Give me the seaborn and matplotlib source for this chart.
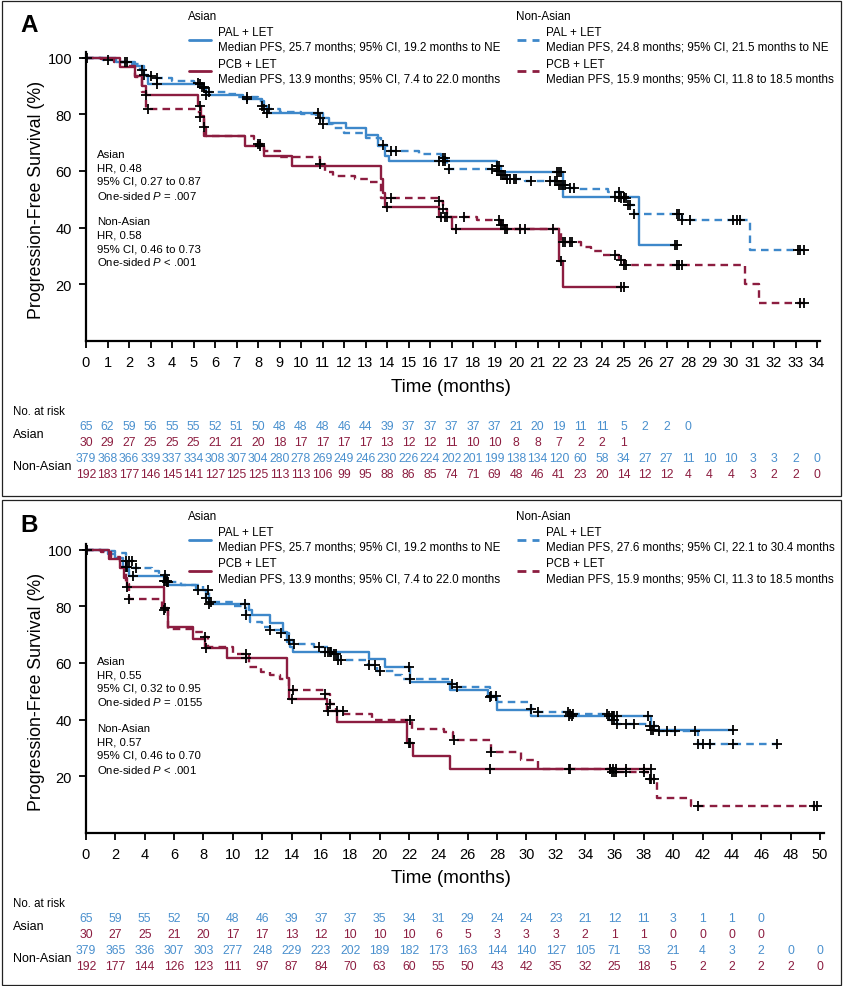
import numpy as np
import pandas as pd
import matplotlib
matplotlib.use("Agg")
import matplotlib.pyplot as plt
import seaborn as sns
from matplotlib import font_manager
from matplotlib.lines import Line2D
from matplotlib.patches import Rectangle
from matplotlib.transforms import blended_transform_factory

# ---------------- data ----------------
# Panel A (months 0..34)
a_apal_t = [0, 1.4, 2.3, 2.7, 2.9, 5.4, 5.6, 7.3, 8.2, 8.4, 11.0, 11.3, 12.1, 13.0, 13.6, 13.9, 14.1, 19.1, 19.3, 22.2, 25.7, 27.5]
a_apal_s = [100, 98.5, 96.9, 93.8, 90.8, 89.2, 86.9, 85.4, 83.0, 80.5, 78.8, 77.0, 75.2, 72.5, 68.9, 65.3, 63.6, 61.6, 59.6, 50.9, 33.9, 33.9]
a_apal_c = [1.9, 2.7, 3.3, 5.3, 5.5, 5.6, 7.5, 8.2, 8.4, 10.8, 16.4, 16.6, 16.7, 19.1, 19.2, 21.9, 22.0, 22.1, 24.6, 24.8, 25.0, 27.4, 27.5]

a_npal_t = [0, 0.8, 1.5, 2.0, 2.5, 2.8, 3.2, 4.0, 5.0, 5.3, 5.6, 6.5, 7.0, 8.0, 8.3, 9.0, 10.0, 10.7, 11.0, 11.5,
            12.0, 13.0, 13.7, 14.0, 15.5, 16.5, 16.8, 19.0, 19.3, 19.6, 20.4, 22.0, 22.4, 22.9, 24.3, 24.9, 25.2, 25.5,
            27.7, 30.9, 33.4]
a_npal_s = [100, 99.2, 98.4, 97.6, 95.5, 93.5, 92.6, 91.8, 91.0, 89.5, 87.8, 87.0, 86.2, 84.5, 82.0, 80.8, 80.0, 78.5,
            76.5, 75.0, 73.5, 71.5, 69.0, 67.0, 66.0, 64.5, 60.7, 60.0, 58.5, 57.0, 56.3, 55.2, 54.0, 53.5, 52.5, 50.6,
            48.0, 44.7, 42.8, 32.2, 32.2]
a_npal_c = [0.05, 1.0, 1.8, 2.6, 3.0, 3.3, 5.2, 5.4, 5.5, 5.7, 7.5, 8.3, 8.5, 10.9, 11.0, 13.8, 14.2, 14.4, 16.6, 16.7,
            16.9, 18.9, 19.1, 19.2, 19.3, 19.4, 19.5, 19.6, 19.7, 19.9, 20.0, 20.7, 21.6, 21.8, 21.9, 22.0, 22.1, 22.2,
            22.3, 22.5, 22.7, 24.8, 24.9, 25.0, 25.1, 25.2, 25.3, 25.5, 27.5, 27.6, 27.7, 28.1, 30.1, 30.3, 30.4, 33.1,
            33.2, 33.4]

a_apcb_t = [0, 1.6, 2.3, 2.6, 2.8, 5.2, 5.35, 5.5, 5.6, 7.4, 8.3, 9.6, 13.7, 13.8, 13.9, 16.4, 17.0, 22.0, 22.2, 25.0]
a_apcb_s = [100, 96.7, 93.3, 90.0, 86.7, 82.9, 79.2, 75.6, 72.4, 68.9, 65.2, 61.8, 57.0, 52.2, 47.4, 43.7, 39.5, 28.3, 18.9, 18.9]
a_apcb_c = [2.8, 5.3, 5.5, 8.1, 14.0, 16.5, 16.7, 17.2, 20.2, 20.4, 21.7, 22.1, 24.9, 25.0]

a_npcb_t = [0, 0.7, 1.3, 1.9, 2.3, 2.6, 2.8, 5.1, 5.3, 5.5, 7.8, 8.0, 8.3, 9.0, 10.9, 11.1, 11.5, 12.5, 13.2, 13.7,
            16.4, 16.6, 16.8, 18.2, 19.3, 19.5, 22.1, 23.0, 23.5, 24.0, 24.8, 25.0, 30.65, 31.3, 33.4]
a_npcb_s = [100, 99.5, 98.4, 96.9, 93.0, 88.0, 81.8, 80.6, 78.9, 72.4, 71.2, 69.6, 67.0, 64.9, 62.5, 59.5, 58.3, 57.1,
            56.0, 50.5, 49.5, 46.5, 43.6, 42.6, 41.0, 39.5, 34.8, 33.0, 31.7, 30.2, 28.5, 26.8, 20.1, 13.3, 13.3]
a_npcb_c = [2.9, 5.3, 8.0, 8.1, 10.9, 14.2, 16.4, 16.6, 16.8, 17.6, 19.2, 19.3, 19.4, 19.5, 19.6, 22.2, 22.3, 22.5,
            22.6, 24.6, 24.9, 25.0, 25.1, 27.5, 27.6, 27.7, 33.2, 33.4]

# Panel B (months 0..50)
b_apal_t = [0, 1.5, 2.0, 2.5, 2.9, 5.3, 5.6, 7.5, 8.2, 8.4, 11.1, 11.3, 12.5, 13.4, 13.7, 13.9, 14.1, 19.3, 20.4, 22.1,
            24.8, 27.4, 28.0, 30.3, 38.5, 44.1]
b_apal_s = [100, 98.5, 96.9, 93.8, 90.5, 89.0, 87.4, 85.6, 83.0, 80.6, 78.6, 76.8, 73.9, 71.0, 67.5, 65.5, 63.8, 61.5,
            58.6, 53.3, 50.3, 48.0, 43.3, 41.4, 36.4, 36.4]
b_apal_c = [2.7, 2.8, 3.2, 5.3, 5.4, 5.5, 7.6, 8.2, 8.4, 10.8, 16.3, 16.5, 16.6, 16.7, 22.0, 27.5, 32.9, 33.1, 35.6,
            35.8, 35.9, 36.0, 36.2, 38.3, 38.5, 38.6, 44.1]

b_npal_t = [0, 1.0, 2.0, 2.7, 3.2, 4.5, 5.0, 5.5, 6.5, 8.0, 8.4, 10.0, 10.9, 11.2, 12.0, 12.5, 13.3, 13.8, 14.1, 15.5,
            16.7, 17.2, 19.2, 19.8, 21.0, 21.5, 24.8, 25.3, 27.5, 28.0, 30.3, 30.8, 33.0, 35.6, 36.2, 38.3, 39.0, 41.7,
            47.1]
b_npal_s = [100, 99.5, 98.7, 96.0, 93.5, 92.5, 91.0, 88.5, 87.4, 85.8, 81.5, 80.2, 77.0, 74.5, 72.5, 71.5, 70.5, 68.0,
            66.5, 65.6, 63.2, 61.0, 59.1, 57.3, 55.6, 54.4, 52.7, 51.5, 48.5, 46.2, 43.9, 42.7, 41.8, 40.0, 38.6, 37.8,
            36.1, 31.4, 31.4]
b_npal_c = [0.05, 2.7, 2.9, 3.1, 3.4, 5.4, 5.5, 5.6, 8.3, 8.5, 10.9, 12.5, 13.3, 13.8, 14.2, 15.9, 16.9, 17.0, 17.2,
            17.4, 19.3, 19.7, 20.0, 22.1, 24.9, 25.3, 27.6, 27.9, 30.3, 30.8, 32.8, 33.0, 33.2, 35.5, 35.8, 36.0, 36.2,
            36.8, 37.3, 38.4, 38.7, 39.0, 39.6, 40.1, 41.5, 41.7, 42.0, 42.5, 44.1, 47.1]

b_apcb_t = [0, 1.6, 2.3, 2.6, 2.8, 5.3, 5.6, 7.3, 8.1, 9.6, 13.7, 13.8, 16.4, 17.1, 21.9, 22.3, 24.8, 38.5]
b_apcb_s = [100, 96.7, 93.3, 90.0, 86.7, 79.3, 72.7, 68.6, 65.2, 61.7, 54.5, 47.3, 43.2, 39.1, 31.9, 27.3, 22.6, 22.6]
b_apcb_c = [2.8, 5.4, 8.2, 10.9, 14.0, 16.5, 22.0, 22.1, 27.5, 33.0, 35.7, 35.9, 36.1, 36.8, 38.0, 38.5]

b_npcb_t = [0, 1.0, 1.7, 2.3, 2.7, 2.9, 5.2, 5.6, 7.4, 8.0, 8.3, 10.0, 11.1, 11.9, 12.5, 13.2, 13.8, 16.3, 16.6, 17.0,
            17.6, 19.5, 22.2, 24.4, 25.0, 27.6, 29.6, 30.8, 35.8, 38.3, 38.9, 41.2, 49.8]
b_npcb_s = [100, 99.0, 97.5, 94.0, 88.0, 82.7, 78.5, 72.1, 70.9, 69.1, 65.6, 63.2, 58.5, 56.7, 55.6, 54.4, 50.3, 49.1,
            45.6, 43.2, 42.0, 39.7, 36.8, 35.6, 32.7, 28.6, 25.7, 22.6, 21.5, 19.2, 12.2, 9.7, 9.7]
b_npcb_c = [2.9, 5.3, 8.1, 10.9, 14.1, 16.3, 16.6, 17.1, 17.5, 22.1, 25.1, 27.6, 32.9, 35.7, 35.8, 36.0, 36.1, 36.8,
            38.0, 38.4, 38.5, 38.7, 41.7, 49.6, 49.8]

# number at risk
a_risk_t = list(range(0, 35))
a_risk_apal = [65, 62, 59, 56, 55, 55, 52, 51, 50, 48, 48, 48, 46, 44, 39, 37, 37, 37, 37, 37, 21, 20, 19, 11, 11, 5, 2, 2, 0]
a_risk_apcb = [30, 29, 27, 25, 25, 25, 21, 21, 20, 18, 17, 17, 17, 17, 13, 12, 12, 11, 10, 10, 8, 8, 7, 2, 2, 1]
a_risk_npal = [379, 368, 366, 339, 337, 334, 308, 307, 304, 280, 278, 269, 249, 246, 230, 226, 224, 202, 201, 199, 138,
               134, 120, 60, 58, 34, 27, 27, 11, 10, 10, 3, 3, 2, 0]
a_risk_npcb = [192, 183, 177, 146, 145, 141, 127, 125, 125, 113, 113, 106, 99, 95, 88, 86, 85, 74, 71, 69, 48, 46, 41,
               23, 20, 14, 12, 12, 4, 4, 4, 3, 2, 2, 0]

b_risk_t = list(range(0, 51, 2))
b_risk_apal = [65, 59, 55, 52, 50, 48, 46, 39, 37, 37, 35, 34, 31, 29, 24, 24, 23, 21, 12, 11, 3, 1, 1, 0]
b_risk_apcb = [30, 27, 25, 21, 20, 17, 17, 13, 12, 10, 10, 10, 6, 5, 3, 3, 3, 2, 1, 1, 0, 0, 0, 0]
b_risk_npal = [379, 365, 336, 307, 303, 277, 248, 229, 223, 202, 189, 182, 173, 163, 144, 140, 127, 105, 71, 53, 21, 4,
               3, 2, 0, 0]
b_risk_npcb = [192, 177, 144, 126, 123, 111, 97, 87, 84, 70, 63, 60, 55, 50, 43, 42, 35, 32, 25, 18, 5, 2, 2, 2, 2, 0]

a_legend_asian = ["Median PFS, 25.7 months; 95% CI, 19.2 months to NE", "Median PFS, 13.9 months; 95% CI, 7.4 to 22.0 months"]
a_legend_nonasian = ["Median PFS, 24.8 months; 95% CI, 21.5 months to NE", "Median PFS, 15.9 months; 95% CI, 11.8 to 18.5 months"]
b_legend_asian = ["Median PFS, 25.7 months; 95% CI, 19.2 months to NE", "Median PFS, 13.9 months; 95% CI, 7.4 to 22.0 months"]
b_legend_nonasian = ["Median PFS, 27.6 months; 95% CI, 22.1 to 30.4 months", "Median PFS, 15.9 months; 95% CI, 11.3 to 18.5 months"]

a_stats = ["Asian", "HR, 0.48", "95% CI, 0.27 to 0.87", "One-sided $P$ = .007",
           "Non-Asian", "HR, 0.58", "95% CI, 0.46 to 0.73", "One-sided $P$ < .001"]
b_stats = ["Asian", "HR, 0.55", "95% CI, 0.32 to 0.95", "One-sided $P$ = .0155",
           "Non-Asian", "HR, 0.57", "95% CI, 0.46 to 0.70", "One-sided $P$ < .001"]

# ---------------- style ----------------
sns.set_theme(style="white")
names = {f.name for f in font_manager.fontManager.ttflist}
REG = "Liberation Sans" if "Liberation Sans" in names else "DejaVu Sans"
NARROW = "Liberation Sans Narrow" if "Liberation Sans Narrow" in names else None
plt.rcParams["font.family"] = [REG, "DejaVu Sans"]
plt.rcParams["mathtext.fontset"] = "custom"
plt.rcParams["mathtext.rm"] = REG
plt.rcParams["mathtext.it"] = REG + ":italic"


def cond(size_narrow, size_reg):
    if NARROW:
        return dict(family=[NARROW, REG], fontsize=size_narrow)
    return dict(family=[REG], fontsize=size_reg)


BLUE = "#3E88CA"
RED = "#8C1D40"
BLUE_T = "#4A90CE"
DASH = (0, (3.2, 2.2))
W, H = 843, 987


def FX(px):
    return px / W


def FY(py):
    return 1 - py / H


fig = plt.figure(figsize=(W / 100, H / 100), dpi=100)


def surv_at(t, s, c):
    t = np.asarray(t)
    idx = np.searchsorted(t, c, side="right") - 1
    return np.asarray(s)[idx]


def panel(letter, ax_bot0, xmax, xscale, xticks, curves, leg_off, leg_asian, leg_non,
          stats_y, stats, tick_y, risk_rows, risk_t, risks):
    x0 = 86
    ytop = ax_bot0 - 102 * 2.835
    ax = fig.add_axes([FX(x0), FY(ax_bot0), FX(x0 + xmax * xscale) - FX(x0), FY(ytop) - FY(ax_bot0)])
    for t, s, c, col, ls in curves:
        df = pd.DataFrame({"t": t, "S": s})
        sns.lineplot(data=df, x="t", y="S", drawstyle="steps-post", color=col, linewidth=1.7,
                     linestyle=ls, estimator=None, sort=False, ax=ax, zorder=2)
    for t, s, c, col, ls in curves:
        dc = pd.DataFrame({"t": c, "S": surv_at(t, s, c)})
        sns.scatterplot(data=dc, x="t", y="S", marker="+", s=55, color="black", linewidth=1.3,
                        ax=ax, zorder=3, clip_on=False)
    ax.set_xlim(0, xmax)
    ax.set_ylim(0, 102)
    ax.set_xticks(xticks)
    ax.set_yticks([20, 40, 60, 80, 100])
    ax.set_xlabel("")
    ax.set_ylabel("")
    for sp in ["top", "right"]:
        ax.spines[sp].set_visible(False)
    for sp in ["left", "bottom"]:
        ax.spines[sp].set_color("black")
        ax.spines[sp].set_linewidth(1.6)
    ax.tick_params(axis="both", direction="out", length=5, width=1.3, color="black",
                   labelsize=10.5, labelcolor="black", pad=5, bottom=True, left=True)
    ax.grid(False)
    fig.text(FX(37), FY(ax_bot0 - 50 * 2.835), "Progression-Free Survival (%)", rotation=90,
             ha="center", va="center", fontsize=12.8, color="black")
    fig.text(FX(451), FY(tick_y + 25), "Time (months)", ha="center", va="center",
             color="black", **cond(15, 13.5))
    fig.text(FX(20), FY(leg_off + 26), letter, ha="left", va="center", fontsize=17.5,
             fontweight="bold", color="black")
    lk = cond(9.8, 8.4)
    for gx, head, texts, ls in [(188, "Asian", leg_asian, "-"), (516, "Non-Asian", leg_non, DASH)]:
        fig.text(FX(gx), FY(leg_off + 17), head, ha="left", va="center", color="black", **lk)
        for i, (lab, col) in enumerate([("PAL + LET", BLUE), ("PCB + LET", RED)]):
            ybase = leg_off + 33.5 + i * 31
            ly = leg_off + 41 + i * 31
            fig.add_artist(Line2D([FX(gx + 1), FX(gx + 23)], [FY(ly), FY(ly)], transform=fig.transFigure,
                                  color=col, linewidth=2.0, linestyle=ls))
            tx = gx + 30
            fig.text(FX(tx), FY(ybase), lab, ha="left", va="center", color="black", **lk)
            fig.text(FX(tx), FY(ybase + 14.5), texts[i], ha="left", va="center", color="black", **lk)
    for yy, txt in zip(stats_y, stats):
        fig.text(FX(97), FY(yy), txt, ha="left", va="center", fontsize=8.2, color="black")
    tk = cond(10, 8.8)
    fig.text(FX(13), FY(risk_rows[0]), "No. at risk", ha="left", va="center", color="black", **cond(9.5, 8.3))
    fig.text(FX(13), FY((risk_rows[1] + risk_rows[2]) / 2), "Asian", ha="left", va="center",
             color="black", **cond(10.5, 9))
    fig.text(FX(13), FY((risk_rows[3] + risk_rows[4]) / 2), "Non-Asian", ha="left", va="center",
             color="black", **cond(10.5, 9))
    trans = blended_transform_factory(ax.transData, fig.transFigure)
    for row, vals, col in zip(risk_rows[1:], risks, [BLUE_T, RED, BLUE_T, RED]):
        for tt, v in zip(risk_t, vals):
            ax.text(tt, FY(row), str(v), transform=trans, ha="center", va="center", color=col,
                    clip_on=False, **tk)
    return ax


panel("A", 342, 34.15, 21.5, list(range(0, 35)),
      [(a_apal_t, a_apal_s, a_apal_c, BLUE, "-"), (a_npal_t, a_npal_s, a_npal_c, BLUE, DASH),
       (a_apcb_t, a_apcb_s, a_apcb_c, RED, "-"), (a_npcb_t, a_npcb_s, a_npcb_c, RED, DASH)],
      0, a_legend_asian, a_legend_nonasian,
      [155, 168.5, 182, 195.5, 222, 235.5, 249, 262.5], a_stats,
      362, [412, 427, 443, 459, 475], a_risk_t,
      [a_risk_apal, a_risk_apcb, a_risk_npal, a_risk_npcb])

panel("B", 834, 50.25, 14.68, list(range(0, 51, 2)),
      [(b_apal_t, b_apal_s, b_apal_c, BLUE, "-"), (b_npal_t, b_npal_s, b_npal_c, BLUE, DASH),
       (b_apcb_t, b_apcb_s, b_apcb_c, RED, "-"), (b_npcb_t, b_npcb_s, b_npcb_c, RED, DASH)],
      500, b_legend_asian, b_legend_nonasian,
      [662, 675.5, 689, 702.5, 729, 742.5, 756, 769.5], b_stats,
      854, [904, 919, 935, 951, 967], b_risk_t,
      [b_risk_apal, b_risk_apcb, b_risk_npal, b_risk_npcb])

for (x0, y0, x1, y1) in [(1.5, 1.5, 841.5, 496.5), (1.5, 500.5, 841.5, 985.5)]:
    fig.add_artist(Rectangle((FX(x0), FY(y1)), FX(x1) - FX(x0), FY(y0) - FY(y1), transform=fig.transFigure,
                             fill=False, edgecolor="#222222", linewidth=0.9))

fig.savefig("out.png", dpi=100, facecolor="white")
